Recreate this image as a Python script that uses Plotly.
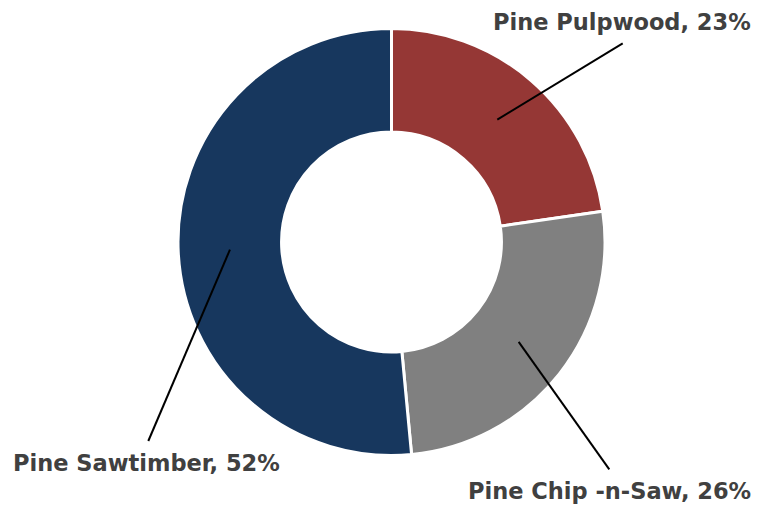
import math
import plotly.graph_objects as go

# Data
categories = ["Pine Pulpwood", "Pine Chip -n-Saw", "Pine Sawtimber"]
values = [22.7, 25.8, 51.5]
pct_labels = ["23%", "26%", "52%"]
colors = ["#953735", "#808080", "#17375E"]

# page body has an 8px margin, so the figure is sized / positioned to compensate
OFF = 8
W, H = 760 - OFF, 506 - OFF
cx, cy, R = 391.5 - OFF, 242.0 - OFF, 213.5
hole = 0.515

# label anchor positions and leader-line end points (screen pixels)
label_pos = [(621.5, 22), (609, 491), (146.5, 463)]
line_end = [(622.7, 43.3), (609.3, 469.3), (148.3, 441.0)]

fig = go.Figure()
fig.add_trace(go.Pie(
    labels=categories,
    values=values,
    sort=False,
    direction="clockwise",
    rotation=0,
    hole=hole,
    marker=dict(colors=colors, line=dict(color="white", width=3)),
    textinfo="none",
    hoverinfo="label+percent",
    showlegend=False,
    domain=dict(x=[(cx - R) / W, (cx + R) / W],
                y=[1 - (cy + R) / H, 1 - (cy - R) / H]),
))

total = sum(values)
cum = 0.0
r_mid = R * (1 + hole) / 2
for i, (cat, v) in enumerate(zip(categories, values)):
    mid = (cum + v / 2) / total * 2 * math.pi
    cum += v
    x0 = cx + r_mid * math.sin(mid)
    y0 = cy - r_mid * math.cos(mid)
    x1, y1 = line_end[i][0] - OFF, line_end[i][1] - OFF
    fig.add_shape(type="line", xref="paper", yref="paper",
                  x0=x0 / W, y0=1 - y0 / H, x1=x1 / W, y1=1 - y1 / H,
                  line=dict(color="black", width=2))
    lx, ly = label_pos[i][0] - OFF, label_pos[i][1] - OFF
    fig.add_annotation(xref="paper", yref="paper", x=lx / W, y=1 - ly / H,
                       text=f"<b>{cat}, {pct_labels[i]}</b>", showarrow=False,
                       xanchor="center", yanchor="middle",
                       font=dict(family="DejaVu Sans", size=22.5, color="#404040"))

fig.update_layout(width=W, height=H, margin=dict(l=0, r=0, t=0, b=0),
                  paper_bgcolor="white", plot_bgcolor="white")
fig.write_html("out.html")
